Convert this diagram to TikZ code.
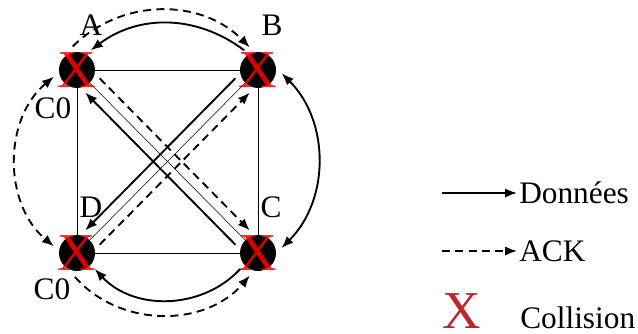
\documentclass[tikz,border=0pt]{standalone}
\usepackage{fontspec}
\setmainfont{Liberation Serif}
\usepackage{xcolor}
\definecolor{collred}{HTML}{C0262B}
\usetikzlibrary{arrows.meta, backgrounds}

\begin{document}
\begin{tikzpicture}[x=0.75pt, y=0.75pt,
  >={Latex[length=9pt, width=7pt]},
  station/.style={circle, fill=black, minimum size=27pt, inner sep=0pt, outer sep=4.5pt},
  collx/.style={text=red, text opacity=0.85, font=\fontsize{40}{40}\selectfont, inner sep=0pt},
  lbl/.style={font=\fontsize{23.5}{28}\selectfont, inner sep=0pt},
  data/.style={line width=1.4pt, ->},
  ack/.style={data, dash pattern=on 6pt off 4pt}]
  \useasboundingbox (0,0) rectangle (638,333);

  % stations
  \node[station] (A) at (77,263) {};
  \node[station] (B) at (258,263) {};
  \node[station] (C) at (258,80) {};
  \node[station] (D) at (77,80) {};
  \foreach \n in {A,B,C,D}
    \node[collx] (x\n) at (\n) {X};

  % square and plain diagonals
  \begin{scope}[on background layer, line width=1.4pt]
    \draw (A.center) -- (B.center) -- (C.center) -- (D.center) -- cycle;
    \draw (A.center) -- (C.center);
    \draw (B.center) -- (D.center);
  \end{scope}

  % station labels
  \node[lbl, anchor=base] (lA) at (91,298) {A};
  \node[lbl, anchor=base] (lB) at (272,298) {B};
  \node[lbl, anchor=base] (lC0a) at (53,215) {C0};
  \node[lbl, anchor=base] (lD) at (91,116) {D};
  \node[lbl, anchor=base] (lC) at (271,116) {C};
  \node[lbl, anchor=base] (lC0b) at (52,34) {C0};

  % diagonals
  \draw[ack] (A.-20) -- (C.110);
  \draw[data] (C.160) -- (A.290);
  \draw[data] (B.200) -- (D.70);
  \draw[ack] (D.20) -- (B.250);

  % arcs
  \draw[data] (B.125) to[bend right=37] (A.55);
  \draw[ack] (A.100) to[bend left=45] (B.110);
  \draw[ack, <->] (A.196) to[bend right=50] (D.164);
  \draw[data, <->] (B.-8) to[bend left=45] (C.12);
  \draw[data] (C.222) to[bend left=47] (D.318);
  \draw[ack] (D.265) to[bend right=49] (C.250);

  % legend
  \coordinate (ds) at (442,140);
  \node[lbl, anchor=west] (ldon) at (519,140) {Données};
  \draw[data, shorten >=1.5pt] (ds) -- (ldon.west);
  \coordinate (as) at (442,82);
  \node[lbl, anchor=west] (lack) at (519,82) {ACK};
  \draw[ack, shorten >=1.5pt] (as) -- (lack.west);
  \node[collx, text=collred, text opacity=1, anchor=base] (lx) at (462,5) {X};
  \node[lbl, anchor=base west] (lcol) at (520,5) {Collision};
\end{tikzpicture}
\end{document}
